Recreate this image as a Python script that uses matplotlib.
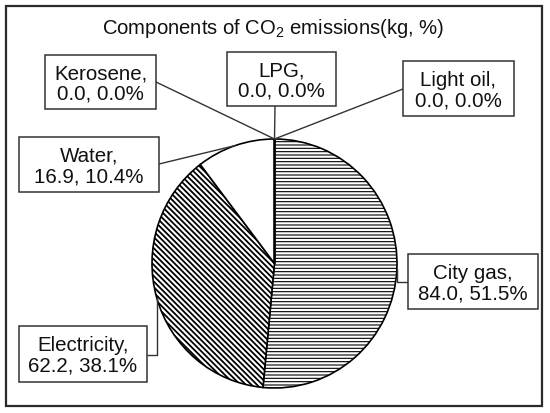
import numpy as np
import matplotlib
matplotlib.use("Agg")
import matplotlib.pyplot as plt
from matplotlib.patches import Rectangle

plt.rcParams["font.family"] = ["Liberation Sans", "DejaVu Sans"]
plt.rcParams["mathtext.fontset"] = "custom"
plt.rcParams["mathtext.rm"] = "Liberation Sans"
plt.rcParams["mathtext.default"] = "regular"

# data
labels = ["City gas", "Electricity", "Water", "Kerosene", "LPG", "Light oil"]
emissions = [84.0, 62.2, 16.9, 0.0, 0.0, 0.0]
shares = [51.5, 38.1, 10.4, 0.0, 0.0, 0.0]

hatches = ["-----", "\\" * 6, "", "", "", ""]
hatch_lw = [0.8, 1.3, 1.0, 1.0, 1.0, 1.0]

# label boxes in pixels from the top-left (x0, y0, x1, y1), line start and elbow flag
boxes = {
    "City gas": ((408, 255, 538, 310), (408, 283), True),
    "Electricity": ((19, 327, 147, 383), (147, 356), True),
    "Water": ((19, 138, 159, 193), (159, 165), False),
    "Kerosene": ((45, 56, 156, 110), (156, 83), False),
    "LPG": ((227, 53, 336, 107), (275, 107), False),
    "Light oil": ((403, 62, 514, 117), (403, 90), False),
}

W, H = 550, 414
fig = plt.figure(figsize=(W / 100, H / 100), dpi=100)
ink = "#111111"

# outer frame
fig.patches.append(Rectangle((6 / W, 1 - 407 / H), 536 / W, 400 / H, transform=fig.transFigure,
                             fill=False, edgecolor="#2a2a2a", linewidth=1.6))

fig.text(273 / W, 1 - 29 / H, "Components of CO$_2$ emissions(kg, %)", ha="center", va="center",
         fontsize=14.6, color=ink)

ax = fig.add_axes([152 / W, 25 / H, 245 / W, 249 / H])
wedges, _ = ax.pie(emissions, startangle=90, counterclock=False, colors=["white"] * len(labels),
                   wedgeprops=dict(edgecolor="black", linewidth=1.2))
ax.set_aspect("auto")
ax.set_xlim(-1, 1)
ax.set_ylim(-1, 1)
ax.axis("off")

for w, h, lw in zip(wedges, hatches, hatch_lw):
    w.set_clip_on(False)
    if h:
        w.set_hatch(h)
        if hasattr(w, "set_hatch_linewidth"):
            w.set_hatch_linewidth(lw)

for w, name, val, pct in zip(wedges, labels, emissions, shares):
    (x0, y0, x1, y1), (sx, sy), elbow = boxes[name]
    mid = np.deg2rad((w.theta1 + w.theta2) / 2)
    conn = "angle,angleA=0,angleB=90,rad=0" if elbow else "arc3"
    ax.annotate("", xy=(np.cos(mid), np.sin(mid)), xycoords="data",
                xytext=(sx, H - sy), textcoords="figure pixels",
                arrowprops=dict(arrowstyle="-", color="#333333", lw=1.0,
                                shrinkA=0, shrinkB=0, connectionstyle=conn),
                annotation_clip=False)
    fig.patches.append(Rectangle((x0 / W, 1 - y1 / H), (x1 - x0) / W, (y1 - y0) / H,
                                 transform=fig.transFigure, facecolor="white",
                                 edgecolor="#333333", linewidth=1.1))
    fig.text((x0 + x1) / 2 / W, 1 - (y0 + y1 + 2) / 2 / H, f"{name},\n{val:.1f}, {pct:.1f}%",
             ha="center", va="center", fontsize=14.8, color=ink, linespacing=1.08)

fig.savefig("out.png", dpi=100, facecolor="white")
